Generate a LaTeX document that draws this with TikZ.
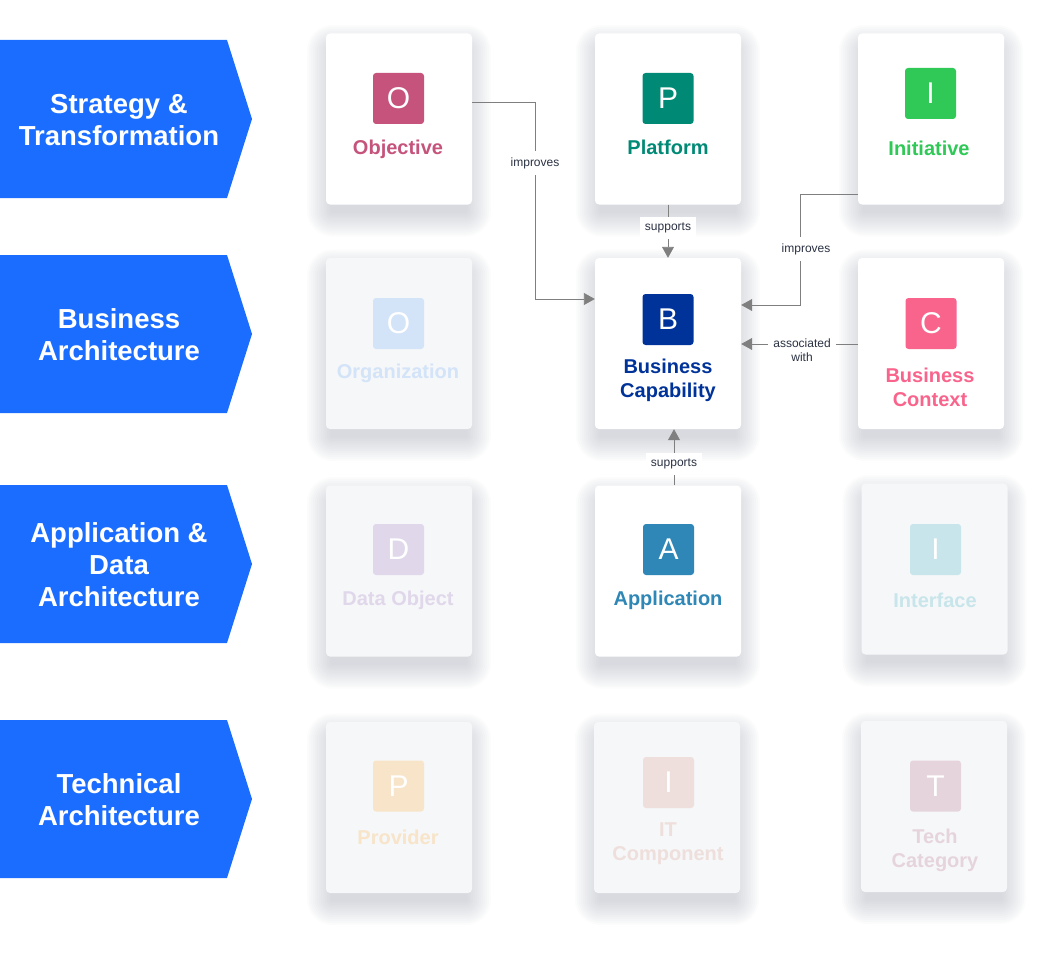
\documentclass[tikz,border=0pt]{standalone}
\usepackage{fontspec}
\setmainfont{Liberation Sans}
\usetikzlibrary{arrows.meta}
\pgfdeclarelayer{bg}
\pgfsetlayers{bg,main}
\definecolor{bannerblue}{HTML}{1A6DFF}
\definecolor{cobj}{HTML}{C6537C}
\definecolor{cplat}{HTML}{008A76}
\definecolor{cinit}{HTML}{30C957}
\definecolor{cbc}{HTML}{003399}
\definecolor{cctx}{HTML}{F9648C}
\definecolor{capp}{HTML}{2E87B6}
\definecolor{corg}{HTML}{D3E3F8}
\definecolor{cdobj}{HTML}{E0D7EB}
\definecolor{cintf}{HTML}{C7E5EA}
\definecolor{cprov}{HTML}{F8E4C9}
\definecolor{citc}{HTML}{EEDFDC}
\definecolor{ctech}{HTML}{E6D4DC}
\definecolor{fadedbg}{HTML}{F6F7F8}
\definecolor{conngray}{HTML}{7F7F7F}
\definecolor{lbltext}{HTML}{2A3142}
\definecolor{shadowcol}{HTML}{8A90A0}
\newcommand\cardshadow[1]{%
  \foreach \r in {2,4,...,26}{%
    \fill[shadowcol, opacity=0.03, rounded corners=\r pt]
      ([xshift=7pt-\r pt, yshift=-6pt-\r pt]#1.south west) rectangle
      ([xshift=-7pt+\r pt, yshift=-17.5pt+\r pt]#1.north east);
  }}
\begin{document}
\begin{tikzpicture}[x=1pt,y=-1pt,
  card/.style={fill=white, rounded corners=4pt, minimum width=146pt, minimum height=171pt, inner sep=0pt},
  fcard/.style={card, fill=fadedbg},
  icon/.style={rounded corners=3pt, minimum size=51pt, inner sep=0pt, text=white, font=\fontsize{30}{30}\selectfont},
  lbl/.style={align=center, inner sep=0pt, font=\fontsize{20}{24}\selectfont\bfseries},
  conn/.style={draw=conngray, line width=0.9pt, -{Triangle[length=11pt,width=12pt]}},
  clbl/.style={fill=white, inner xsep=5pt, inner ysep=6pt, font=\fontsize{12}{14}\selectfont, text=lbltext, align=center},
  banner/.style={fill=bannerblue},
  bantext/.style={text=white, align=center, inner sep=0pt, font=\fontsize{27.5}{32}\selectfont\bfseries}
]
\useasboundingbox (0,0) rectangle (1056,960);

% banners
\fill[banner] (0,40) -- (227,40) -- (252,119) -- (227,198) -- (0,198) -- cycle;
\fill[banner] (0,255) -- (227,255) -- (252,334) -- (227,413) -- (0,413) -- cycle;
\fill[banner] (0,485) -- (227,485) -- (252,564) -- (227,643) -- (0,643) -- cycle;
\fill[banner] (0,720) -- (227,720) -- (252,799) -- (227,878) -- (0,878) -- cycle;
\node[bantext] (b1) at (119,120) {Strategy \&\\Transformation};
\node[bantext] (b2) at (119,335) {Business\\Architecture};
\node[bantext] (b3) at (119,565) {Application \&\\Data\\Architecture};
\node[bantext] (b4) at (119,800) {Technical\\Architecture};

% cards
\node[card] (obj) at (399,119) {};
\node[card] (plat) at (668,119) {};
\node[card] (init) at (931,119) {};
\node[fcard] (org) at (399,343.5) {};
\node[card] (bc) at (668,343.5) {};
\node[card] (ctx) at (931,343.5) {};
\node[fcard] (dobj) at (399,571) {};
\node[card] (app) at (668,571) {};
\node[fcard] (intf) at (934.5,569) {};
\node[fcard] (prov) at (399,807.5) {};
\node[fcard] (itc) at (667,807.5) {};
\node[fcard] (tech) at (934,806.5) {};

\begin{pgfonlayer}{bg}
\foreach \c in {obj,plat,init,org,bc,ctx,dobj,app,intf,prov,itc,tech}{\cardshadow{\c}}
\end{pgfonlayer}

% icons and labels
\node[icon, fill=cobj] (objI) at (398.5,98.5) {O};
\node[lbl, text=cobj] (objL) at (398,149) {Objective};
\node[icon, fill=cplat] (platI) at (668,98.5) {P};
\node[lbl, text=cplat] (platL) at (668,147) {Platform};
\node[icon, fill=cinit] (initI) at (930.5,93.5) {I};
\node[lbl, text=cinit] (initL) at (929,148) {Initiative};
\node[icon, fill=corg] (orgI) at (398.5,323.5) {O};
\node[lbl, text=corg] (orgL) at (398,373) {Organization};
\node[icon, fill=cbc] (bcI) at (668,319.5) {B};
\node[lbl, text=cbc] (bcL) at (668,380) {Business\\Capability};
\node[icon, fill=cctx] (ctxI) at (931,323.5) {C};
\node[lbl, text=cctx] (ctxL) at (930,387) {Business\\Context};
\node[icon, fill=cdobj] (dobjI) at (398.5,549.5) {D};
\node[lbl, text=cdobj] (dobjL) at (398,600) {Data Object};
\node[icon, fill=capp] (appI) at (668.5,549.5) {A};
\node[lbl, text=capp] (appL) at (668,600) {Application};
\node[icon, fill=cintf] (intfI) at (935.5,549.5) {I};
\node[lbl, text=cintf] (intfL) at (935,600) {Interface};
\node[icon, fill=cprov] (provI) at (398.5,786) {P};
\node[lbl, text=cprov] (provL) at (398,837) {Provider};
\node[icon, fill=citc] (itcI) at (668.5,782.5) {I};
\node[lbl, text=citc] (itcL) at (668,844) {IT\\Component};
\node[icon, fill=ctech] (techI) at (935.5,786) {T};
\node[lbl, text=ctech] (techL) at (935,850) {Tech\\Category};

% connectors
\draw[conn] (obj.east |- 0,102) -| (535,299) -- (bc.west |- 0,299);
\draw[conn] (plat.south) -- (bc.north);
\draw[conn] (init.west |- 0,194) -| (800,305) -- (bc.east |- 0,305);
\draw[conn] (ctx.west |- 0,344) -- (bc.east |- 0,344);
\draw[conn] (app.north -| 674,0) -- (bc.south -| 674,0);

% connector labels
\node[clbl] (l1) at (535,163) {improves};
\node[clbl] (l2) at (668,228) {supports};
\node[clbl] (l3) at (806,249) {improves};
\node[clbl] (l4) at (802,350) {associated\\with};
\node[clbl] (l5) at (674,464) {supports};
\end{tikzpicture}
\end{document}
